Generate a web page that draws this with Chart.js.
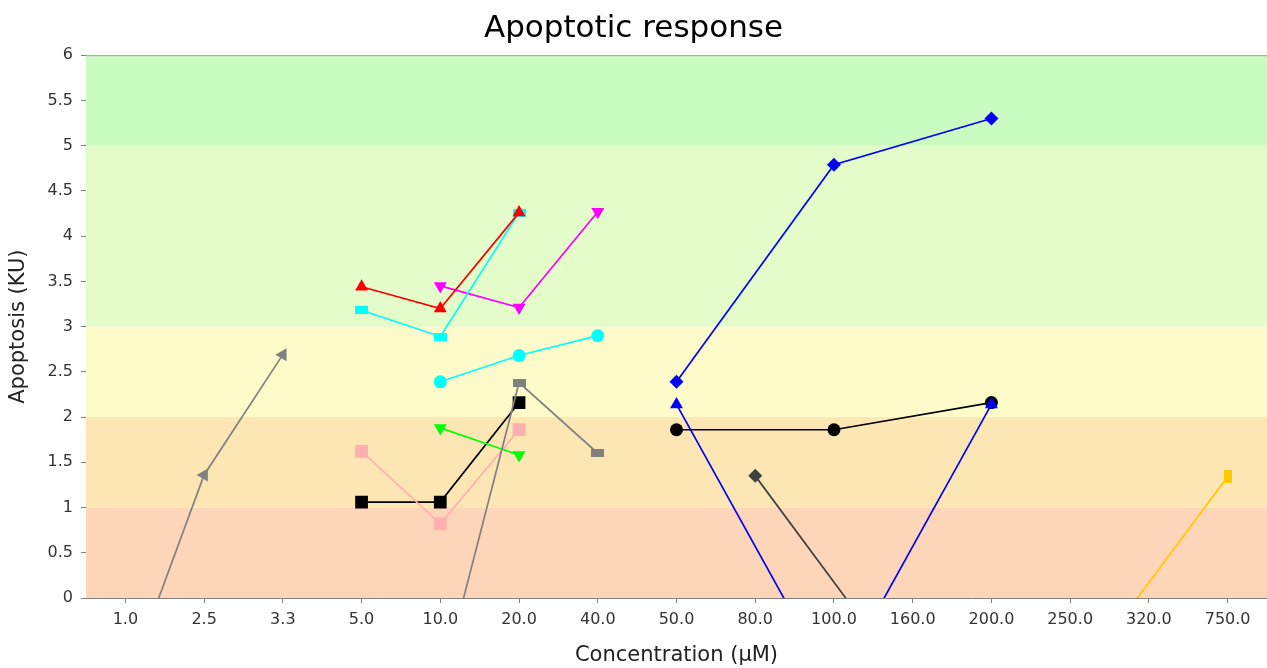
<!DOCTYPE html>
<html>
<head>
<meta charset="utf-8">
<script src="https://cdn.jsdelivr.net/npm/chart.js@4"></script>
<style>
  html, body { margin: 0; padding: 0; background: #fff; }
  #chart { display: block; }
</style>
</head>
<body>
<canvas id="chart" width="1267" height="668"></canvas>
<script>
// Categories (concentration, µM)
const concentrations = ["1.0", "2.5", "3.3", "5.0", "10.0", "20.0", "40.0", "50.0", "80.0", "100.0", "160.0", "200.0", "250.0", "320.0", "750.0"];

// Series values (apoptosis, KU), one slot per category
const grayTriangle  = [-1, 1.36, 2.69, null, null, null, null, null, null, null, null, null, null, null, null];
const redTriangle   = [null, null, null, 3.44, 3.20, 4.26, null, null, null, null, null, null, null, null, null];
const cyanRect      = [null, null, null, 3.18, 2.89, 4.26, null, null, null, null, null, null, null, null, null];
const magentaDown   = [null, null, null, null, 3.45, 3.21, 4.27, null, null, null, null, null, null, null, null];
const cyanCircle    = [null, null, null, null, 2.39, 2.68, 2.90, null, null, null, null, null, null, null, null];
const grayRect      = [null, null, null, null, -1, 2.38, 1.60, null, null, null, null, null, null, null, null];
const greenDown     = [null, null, null, null, 1.88, 1.58, null, null, null, null, null, null, null, null, null];
const pinkSquare    = [null, null, null, 1.62, 0.82, 1.86, null, null, null, null, null, null, null, null, null];
const blackSquare   = [null, null, null, 1.06, 1.06, 2.16, null, null, null, null, null, null, null, null, null];
const blueDiamond   = [null, null, null, null, null, null, null, 2.39, null, 4.79, null, 5.30, null, null, null];
const blueTriangle  = [null, null, null, null, null, null, null, 2.14, null, -1, null, 2.14, null, null, null];
const blackCircle   = [null, null, null, null, null, null, null, 1.86, null, 1.86, null, 2.16, null, null, null];
const darkDiamond   = [null, null, null, null, null, null, null, null, 1.35, null, -1, null, null, null, null];
const orangeRect    = [null, null, null, null, null, null, null, null, null, null, null, null, -1, null, 1.34];

// Background bands (from, to, colour)
const bandEdges  = [0, 1, 2, 3, 5, 6];
const bandColors = ["#fdd5b8", "#fce6b4", "#fdfbc9", "#e4fbca", "#cafbc0"];

const yTicks = [0, 0.5, 1, 1.5, 2, 2.5, 3, 3.5, 4, 4.5, 5, 5.5, 6];

function rectMarker(w, h, color) {
    const c = document.createElement("canvas");
    c.width = w;
    c.height = h;
    const g = c.getContext("2d");
    g.fillStyle = color;
    g.fillRect(0, 0, w, h);
    return c;
}

function series(data, color, style, radius, rotation) {
    return {
        data: data,
        borderColor: color,
        backgroundColor: color,
        borderWidth: 1.7,
        pointStyle: style,
        pointRadius: radius,
        pointHoverRadius: radius,
        pointRotation: rotation || 0,
        pointBorderWidth: 0,
        spanGaps: true,
        tension: 0,
    };
}

// background bands painted under the lines
const bandsPlugin = {
    id: "bands",
    beforeDatasetsDraw(chart) {
        const { ctx, chartArea, scales } = chart;
        const y = scales.y;
        ctx.save();
        for (let i = 0; i < bandColors.length; i++) {
            const top = y.getPixelForValue(bandEdges[i + 1]);
            const bottom = y.getPixelForValue(bandEdges[i]);
            ctx.fillStyle = bandColors[i];
            ctx.fillRect(chartArea.left, top, chartArea.right - chartArea.left, bottom - top);
        }
        ctx.strokeStyle = "#a0a0a0";
        ctx.lineWidth = 1;
        ctx.beginPath();
        ctx.moveTo(chartArea.left, chartArea.top + 0.5);
        ctx.lineTo(chartArea.right, chartArea.top + 0.5);
        ctx.stroke();
        ctx.restore();
    },
};

const font = "'DejaVu Sans', sans-serif";

new Chart(document.getElementById("chart"), {
    type: "line",
    data: {
        labels: concentrations,
        datasets: [
            series(grayTriangle, "#808080", "triangle", 7.5, -90),
            series(redTriangle, "#ff0000", "triangle", 7.5),
            series(cyanRect, "#00ffff", rectMarker(13, 8, "#00ffff"), 6),
            series(magentaDown, "#ff00ff", "triangle", 7.5, 180),
            series(cyanCircle, "#00ffff", "circle", 6.5),
            series(grayRect, "#808080", rectMarker(13, 8, "#808080"), 6),
            series(greenDown, "#00ff00", "triangle", 7.5, 180),
            series(pinkSquare, "#ffafaf", "rect", 9),
            series(blackSquare, "#000000", "rect", 9),
            series(blueDiamond, "#0000ff", "rectRot", 7),
            series(blueTriangle, "#0000ff", "triangle", 7.5),
            series(blackCircle, "#000000", "circle", 6.5),
            series(darkDiamond, "#404040", "rectRot", 7),
            series(orangeRect, "#ffc800", rectMarker(8, 13, "#ffc800"), 6),
        ],
    },
    options: {
        responsive: false,
        animation: false,
        layout: { padding: 0, autoPadding: false },
        plugins: {
            legend: { display: false },
            tooltip: { enabled: false },
            title: {
                display: true,
                text: "Apoptotic response",
                color: "#000",
                font: { family: font, size: 31, weight: "normal" },
                padding: { top: 10, bottom: 8 },
            },
        },
        scales: {
            x: {
                type: "category",
                offset: true,
                grid: { display: true, drawOnChartArea: false, drawTicks: true, tickLength: 5, color: "#808080" },
                border: { display: true, color: "#808080", width: 1 },
                ticks: { color: "#333", font: { family: font, size: 16 }, padding: 7, maxRotation: 0, autoSkip: false },
                title: {
                    display: true,
                    text: "Concentration (µM)",
                    color: "#222",
                    font: { family: font, size: 21 },
                    padding: { top: 0, bottom: 0 },
                },
                afterFit(scale) {
                    scale.height = 70;
                    scale.paddingLeft = 0;
                    scale.paddingRight = 0;
                },
            },
            y: {
                min: 0,
                max: 6,
                afterBuildTicks(scale) { scale.ticks = yTicks.map(v => ({ value: v })); },
                grid: { display: true, drawOnChartArea: false, drawTicks: true, tickLength: 5, color: "#808080" },
                border: { display: true, color: "#808080", width: 1 },
                ticks: { color: "#333", font: { family: font, size: 16 }, padding: 8, callback: v => String(v) },
                title: {
                    display: true,
                    text: "Apoptosis (KU)",
                    color: "#222",
                    font: { family: font, size: 21 },
                    padding: { top: 6, bottom: 0 },
                },
                afterFit(scale) {
                    scale.width = 86;
                    scale.paddingTop = 0;
                },
            },
        },
    },
    plugins: [bandsPlugin],
});
</script>
</body>
</html>
